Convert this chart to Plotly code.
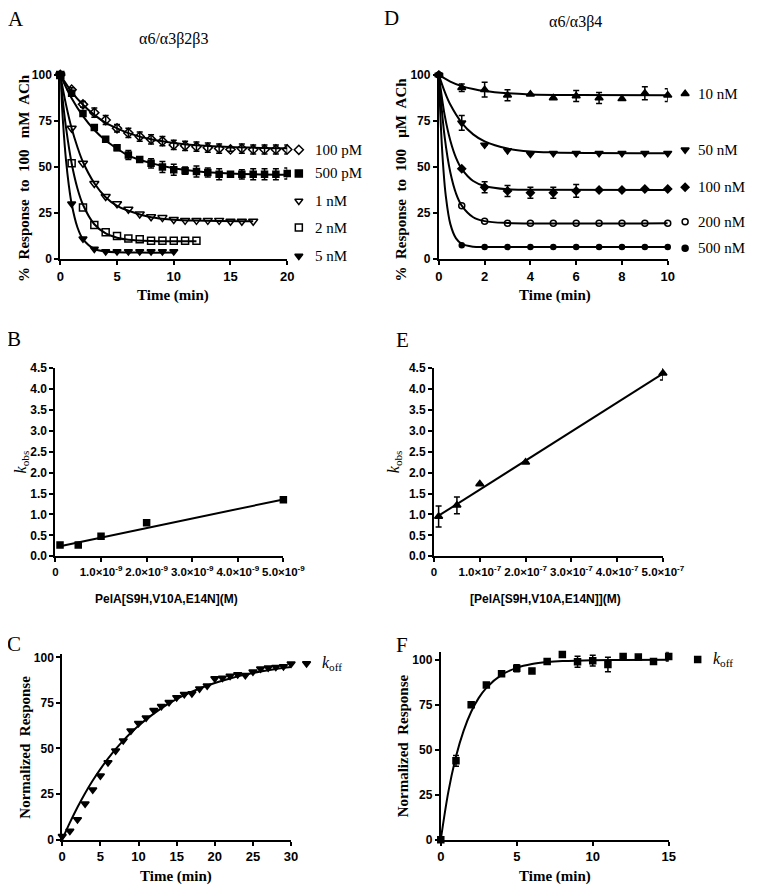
import plotly.graph_objects as go

# Page is 775x894; the browser body keeps an 8 px margin, so the figure is 759x878
PW, PH = 775, 894
OFF = 8
FW, FH = PW - 2 * OFF, PH - 2 * OFF
def fx(p): return (p - OFF) / FW
def fy(p): return 1 - (p - OFF) / FH

# ---------------- Panel A: a6/a3b2b3 ----------------
tA_100pM = list(range(0, 21))
A_100pM = [100, 92, 84, 79.5, 75.5, 71, 68.5, 66.5, 65, 64, 62, 61.5, 61, 60.5, 60, 59.5, 60, 59.5, 59.5, 59.5, 59.5]
A_100pM_err = [0, 1, 1.5, 2.5, 2.5, 2, 2.5, 2.5, 2.5, 2.5, 2.5, 2.5, 2.5, 2.5, 2.5, 1, 2.5, 2.5, 2.5, 2.5, 2.5]
tA_500pM = list(range(0, 21))
A_500pM = [100, 90, 79, 71.5, 65, 60.5, 56.5, 54, 52, 50, 48.5, 48, 47.5, 47, 46, 46, 46, 46, 46, 46, 46.5]
A_500pM_err = [0, 1, 1, 1, 1, 1.5, 2.5, 1.5, 2.5, 3, 3, 2, 3, 2.5, 3, 1, 2.5, 3, 3, 3, 3]
tA_1nM = list(range(0, 18))
A_1nM = [100, 71, 52, 41, 34, 30, 27, 24.5, 23, 22.5, 21.5, 21, 21, 21, 21, 20.5, 20.5, 20.5]
tA_2nM = list(range(0, 13))
A_2nM = [100, 52, 28, 18.5, 14.5, 12.5, 11.2, 10.8, 10, 10, 10, 10, 10]
tA_5nM = list(range(0, 11))
A_5nM = [100, 30, 11, 5.5, 4.1, 4.1, 4.1, 4.1, 4.1, 4.1, 4.1]

fitA_100pM_t = [0, 1, 2, 3, 4, 5, 6, 8, 10, 12, 15, 20]
fitA_100pM = [100, 90.8, 83.8, 78.3, 74, 71, 68.4, 65, 63, 61.8, 60.8, 60.2]
fitA_500pM_t = [0, 1, 2, 3, 4, 5, 6, 8, 10, 12, 15, 20]
fitA_500pM = [100, 87.3, 77.6, 70.1, 64.4, 60, 56.2, 52.1, 49.3, 47.7, 46.5, 45.8]
fitA_1nM_t = [0, 0.5, 1, 1.5, 2, 3, 4, 5, 6, 8, 10, 12, 17]
fitA_1nM = [100, 84, 71, 61, 52.7, 41.2, 33.6, 28.9, 26.2, 22.7, 21.4, 20.9, 20.5]
fitA_2nM_t = [0, 0.25, 0.5, 1, 1.5, 2, 3, 4, 5, 6, 8, 12]
fitA_2nM = [100, 84.4, 71.6, 52, 38.6, 29.5, 18.9, 13.9, 11.6, 10.5, 9.8, 9.6]
fitA_5nM_t = [0, 0.25, 0.5, 0.75, 1, 1.5, 2, 3, 4, 5, 7, 10]
fitA_5nM = [100, 73.4, 54, 40.2, 30, 17.4, 10.8, 5.5, 4.1, 3.7, 3.5, 3.5]

# ---------------- Panel D: a6/a3b4 ----------------
tD = list(range(0, 11))
D_10nM = [100, 93, 92, 89, 89.5, 87.5, 88.5, 87.5, 87, 90, 89]
D_10nM_err = [0, 2, 4, 3, 0, 0, 3, 3, 0, 3.5, 3.5]
D_50nM = [100, 74, 62, 59, 57, 57.5, 57.5, 57.5, 57.5, 57.5, 57.5]
D_50nM_err = [0, 4, 0, 0, 0, 0, 0, 0, 0, 0, 0]
D_100nM = [100, 49, 39, 37, 36, 36, 37, 37.5, 37.5, 38, 38]
D_100nM_err = [0, 0, 3, 3, 3, 3, 3.5, 0, 0, 0, 0]
D_200nM = [100, 29, 20.5, 19.5, 19.5, 19.5, 19.5, 19.5, 19.5, 19.5, 19.5]
D_500nM = [100, 7.5, 6.5, 6.5, 6.5, 6.5, 6.5, 6.5, 6.5, 6.5, 6.5]

fitD_10nM_t = [0, 0.5, 1, 1.5, 2, 3, 4, 6, 10]
fitD_10nM = [100, 96.4, 93.9, 92.3, 91.2, 90, 89.4, 89.1, 89]
fitD_50nM_t = [0, 0.25, 0.5, 1, 1.5, 2, 3, 4, 5, 10]
fitD_50nM = [100, 91, 83.9, 74, 67.7, 63.9, 60, 58.4, 57.9, 57.5]
fitD_100nM_t = [0, 0.25, 0.5, 0.75, 1, 1.5, 2, 3, 4, 10]
fitD_100nM = [100, 78.4, 64.4, 55, 49, 42.4, 39.7, 37.9, 37.6, 37.5]
fitD_200nM_t = [0, 0.25, 0.5, 0.75, 1, 1.5, 2, 3, 10]
fitD_200nM = [100, 66.6, 47.1, 35.6, 29, 22.7, 20.6, 19.6, 19.5]
fitD_500nM_t = [0, 0.1, 0.2, 0.3, 0.5, 0.75, 1, 1.5, 2, 10]
fitD_500nM = [100, 69, 48.5, 34.6, 19.1, 11.2, 8.2, 6.7, 6.5, 6.5]

# ---------------- Panel B / E: kobs vs concentration ----------------
B_conc = [1e-10, 5e-10, 1e-9, 2e-9, 5e-9]
B_kobs = [0.27, 0.27, 0.48, 0.8, 1.35]
B_fit_x = [1e-10, 5e-9]
B_fit_y = [0.24, 1.36]
B_ticks = [0, 1e-9, 2e-9, 3e-9, 4e-9, 5e-9]
B_ticktext = ["0", "1.0×10<sup>-9</sup>", "2.0×10<sup>-9</sup>", "3.0×10<sup>-9</sup>", "4.0×10<sup>-9</sup>", "5.0×10<sup>-9</sup>"]

E_conc = [1e-8, 5e-8, 1e-7, 2e-7, 5e-7]
E_kobs = [0.95, 1.22, 1.73, 2.25, 4.38]
E_kobs_err = [0.25, 0.2, 0, 0, 0.16]
E_fit_x = [1e-8, 5e-7]
E_fit_y = [0.97, 4.37]
E_ticks = [0, 1e-7, 2e-7, 3e-7, 4e-7, 5e-7]
E_ticktext = ["0", "1.0×10<sup>-7</sup>", "2.0×10<sup>-7</sup>", "3.0×10<sup>-7</sup>", "4.0×10<sup>-7</sup>", "5.0×10<sup>-7</sup>"]

# ---------------- Panel C / F: koff recovery ----------------
tC = list(range(0, 31))
C_resp = [1.8, 4.7, 11, 19.7, 27.4, 35, 42.3, 48.7, 54.3, 59.7, 63.8, 66.8, 71, 73.1, 75.3, 78,
          79.7, 80.1, 82.8, 84.4, 88.4, 88.7, 89.8, 90.5, 90.1, 92.1, 93.7, 94.3, 94.6, 95, 96.4]
fitC_t = [0, 1, 2, 3, 4, 5, 6, 7, 8, 9, 10, 12, 14, 16, 18, 20, 22, 24, 26, 28, 30]
fitC = [0, 9.3, 17.8, 25.5, 32.4, 38.7, 44.4, 49.6, 54.3, 58.6, 62.5, 69.1, 74.7, 79.2, 82.9, 85.9, 88.4, 90.5, 92.2, 93.6, 94.7]

tF = list(range(0, 16))
F_resp = [0, 43.8, 75, 86, 92.2, 95.3, 93.8, 99.1, 103, 98.9, 99.5, 97.4, 101.8, 101.5, 99.1, 101.8]
F_err = [0, 3, 0, 0, 0, 2, 0, 0, 0, 3, 3, 4, 0, 0, 0, 2.5]
fitF_t = [0, 0.5, 1, 1.5, 2, 2.5, 3, 4, 5, 6, 7, 8, 10, 12, 15]
fitF = [0, 26.7, 46.2, 60.5, 71.1, 78.8, 84.4, 91.6, 95.5, 97.6, 98.7, 99.3, 99.8, 99.9, 100]

# legend keys
legA_sym = ["diamond-open", "square", "triangle-down-open", "square-open", "triangle-down"]
legA_lab = ["100 pM", "500 pM", "1 nM", "2 nM", "5 nM"]
legD_sym = ["triangle-up", "triangle-down", "diamond", "circle-open", "circle"]
legD_lab = ["10 nM", "50 nM", "100 nM", "200 nM", "500 nM"]

BLACK = "black"
fig = go.Figure()

def pts(x, y, xa, ya, symbol, size=7, err=None):
    kw = {}
    if err is not None:
        kw["error_y"] = dict(type="data", array=err, visible=True, color=BLACK, thickness=1.5, width=3)
    fig.add_trace(go.Scatter(x=x, y=y, mode="markers", xaxis=xa, yaxis=ya, cliponaxis=False,
                             marker=dict(symbol=symbol, size=size, color=BLACK,
                                         line=dict(color=BLACK, width=1.5)), **kw))

def fit(x, y, xa, ya, spline=True):
    fig.add_trace(go.Scatter(x=x, y=y, mode="lines", xaxis=xa, yaxis=ya,
                             line=dict(color=BLACK, width=2, shape="spline" if spline else "linear")))

# Panel A (x, y)
for ft, fv in [(fitA_100pM_t, fitA_100pM), (fitA_500pM_t, fitA_500pM), (fitA_1nM_t, fitA_1nM),
               (fitA_2nM_t, fitA_2nM), (fitA_5nM_t, fitA_5nM)]:
    fit(ft, fv, "x", "y")
pts(tA_100pM, A_100pM, "x", "y", "diamond-open", 7, A_100pM_err)
pts(tA_500pM, A_500pM, "x", "y", "square", 6, A_500pM_err)
pts(tA_1nM, A_1nM, "x", "y", "triangle-down-open", 8)
pts(tA_2nM, A_2nM, "x", "y", "square-open", 7)
pts(tA_5nM, A_5nM, "x", "y", "triangle-down", 7)

# Panel D (x2, y2)
for ft, fv in [(fitD_10nM_t, fitD_10nM), (fitD_50nM_t, fitD_50nM), (fitD_100nM_t, fitD_100nM),
               (fitD_200nM_t, fitD_200nM), (fitD_500nM_t, fitD_500nM)]:
    fit(ft, fv, "x2", "y2")
pts(tD, D_10nM, "x2", "y2", "triangle-up", 7, D_10nM_err)
pts(tD, D_50nM, "x2", "y2", "triangle-down", 7, D_50nM_err)
pts(tD, D_100nM, "x2", "y2", "diamond", 6, D_100nM_err)
pts(tD, D_200nM, "x2", "y2", "circle-open", 6)
pts(tD, D_500nM, "x2", "y2", "circle", 5)

# Panel B (x3, y3)
fit(B_fit_x, B_fit_y, "x3", "y3", spline=False)
pts(B_conc, B_kobs, "x3", "y3", "square", 6)
# Panel E (x4, y4)
fit(E_fit_x, E_fit_y, "x4", "y4", spline=False)
pts(E_conc, E_kobs, "x4", "y4", "triangle-up", 7, E_kobs_err)
# Panel C (x5, y5)
fit(fitC_t, fitC, "x5", "y5")
pts(tC, C_resp, "x5", "y5", "triangle-down", 7)
# Panel F (x6, y6)
fit(fitF_t, fitF, "x6", "y6")
pts(tF, F_resp, "x6", "y6", "square", 6, F_err)

# Legend keys on a page-wide invisible overlay (page pixel positions)
legA_py = [145, 169, 197, 224, 253]
legD_py = [88, 145, 183, 218, 245]
for s, yv in zip(legA_sym, legA_py):
    pts([305], [yv], "x7", "y7", s, 7)
for s, yv in zip(legD_sym, legD_py):
    pts([705], [yv], "x7", "y7", s, 7 if "triangle" in s else 6)
pts([313], [667], "x7", "y7", "triangle-down", 7)
pts([718], [663], "x7", "y7", "square", 6)

tickfont_x = dict(family="Arial, Liberation Sans", size=13, color=BLACK, weight="bold")
tickfont_y = dict(family="Arial, Liberation Sans", size=12, color=BLACK, weight="bold")
def axis(domain, rng, anchor, tf, **kw):
    d = dict(domain=domain, range=rng, anchor=anchor, showline=True, linewidth=2, linecolor=BLACK,
             ticks="outside", ticklen=4, tickwidth=2, tickcolor=BLACK, showgrid=False, zeroline=False,
             tickfont=tf, tickangle=0)
    d.update(kw)
    return d

sci_font = dict(family="Arial, Liberation Sans", size=11.5, color=BLACK, weight="bold")
yA = [fy(256), fy(67)]
yB = [fy(558), fy(367)]
layout = dict(
    width=FW, height=FH, margin=dict(l=0, r=0, t=0, b=0), showlegend=False,
    plot_bgcolor="rgba(0,0,0,0)", paper_bgcolor="white",
    xaxis=axis([fx(58), fx(293)], [0, 20], "y", tickfont_x, tickvals=[0, 5, 10, 15, 20]),
    yaxis=axis(yA, [0, 101], "x", tickfont_y, tickvals=[0, 25, 50, 75, 100]),
    xaxis2=axis([fx(450), fx(687)], [0, 10], "y2", tickfont_x, tickvals=[0, 2, 4, 6, 8, 10]),
    yaxis2=axis(yA, [0, 101], "x2", tickfont_y, tickvals=[0, 25, 50, 75, 100]),
    xaxis3=axis([fx(53), fx(289)], [0, 5e-9], "y3", sci_font, tickvals=B_ticks, ticktext=B_ticktext),
    yaxis3=axis(yB, [0, 4.5], "x3", tickfont_y, tickvals=[0, 0.5, 1, 1.5, 2, 2.5, 3, 3.5, 4, 4.5], tickformat=".1f"),
    xaxis4=axis([fx(445), fx(682)], [0, 5e-7], "y4", sci_font, tickvals=E_ticks, ticktext=E_ticktext),
    yaxis4=axis(yB, [0, 4.5], "x4", tickfont_y, tickvals=[0, 0.5, 1, 1.5, 2, 2.5, 3, 3.5, 4, 4.5], tickformat=".1f"),
    xaxis5=axis([fx(60), fx(297)], [0, 30], "y5", tickfont_x, tickvals=[0, 5, 10, 15, 20, 25, 30]),
    yaxis5=axis([fy(846), fy(657)], [0, 102], "x5", tickfont_y, tickvals=[0, 25, 50, 75, 100]),
    xaxis6=axis([fx(452), fx(688)], [0, 15], "y6", tickfont_x, tickvals=[0, 5, 10, 15]),
    yaxis6=axis([fy(846), fy(655)], [0, 104.5], "x6", tickfont_y, tickvals=[0, 25, 50, 75, 100]),
    xaxis7=dict(domain=[0, 1], range=[OFF, PW - OFF], anchor="y7", visible=False, fixedrange=True),
    yaxis7=dict(domain=[0, 1], range=[PH - OFF, OFF], anchor="x7", visible=False, fixedrange=True),
)
fig.update_layout(**layout)

serif = "Times New Roman, Liberation Serif"
def ann(text, x, y, size=13, bold=True, angle=0, family=serif, xanchor="center"):
    fig.add_annotation(text=text, x=x, y=y, xref="paper", yref="paper", showarrow=False, textangle=angle,
                       xanchor=xanchor, yanchor="middle",
                       font=dict(family=family, size=size, color=BLACK, weight="bold" if bold else "normal"))

# Panel letters
for lab, px_, py_ in [("A", 12, 12), ("D", 401, 11), ("B", 10, 337), ("E", 412, 338), ("C", 10, 647), ("F", 412, 648)]:
    ann(lab, fx(px_), fy(py_), size=21, bold=False)

# Titles
ann("α6/α3β2β3", fx(176), fy(32), size=16, bold=False)
ann("α6/α3β4", fx(592), fy(15), size=16, bold=False)

# Axis titles
ann("Time (min)", fx(175), fy(293), size=15)
ann("Time (min)", fx(570), fy(293), size=15)
ann("Time (min)", fx(178), fy(883), size=15)
ann("Time (min)", fx(570), fy(883), size=15)
ann("%  Response  to  100   mM  ACh", fx(21), fy(174), size=15, angle=-90)
ann("%  Response  to  100   μM  ACh", fx(411), fy(175), size=15, angle=-90)
ann("Normalized  Response", fx(22), fy(752), size=15, angle=-90)
ann("Normalized  Response", fx(413), fy(751), size=15, angle=-90)
ann("<i>k</i><sub>obs</sub>", fx(18), fy(462), size=16, bold=False, angle=-90)
ann("<i>k</i><sub>obs</sub>", fx(404), fy(462), size=16, bold=False, angle=-90)
ann("PelA[S9H,V10A,E14N](M)", fx(168), fy(601), size=12, family="Arial, Liberation Sans")
ann("[PelA[S9H,V10A,E14N]](M)", fx(560), fy(601), size=12, family="Arial, Liberation Sans")

# Legend labels
for lab, pyv in zip(legA_lab, legA_py):
    ann(lab, fx(320), fy(pyv), size=15, bold=False, xanchor="left")
for lab, pyv in zip(legD_lab, legD_py):
    ann(lab, fx(716), fy(pyv), size=15, bold=False, xanchor="left")
ann("<i>k</i><sub>off</sub>", fx(327), fy(667), size=16, bold=False, xanchor="left")
ann("<i>k</i><sub>off</sub>", fx(732), fy(663), size=16, bold=False, xanchor="left")

fig.write_html("out.html", config=dict(displayModeBar=False))
